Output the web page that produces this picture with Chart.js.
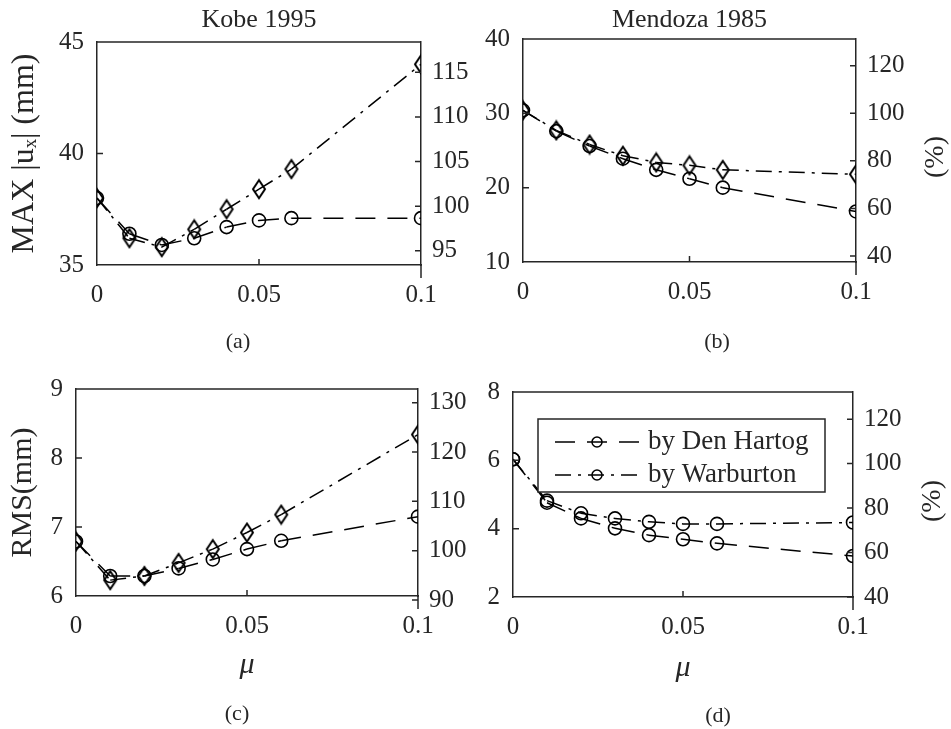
<!DOCTYPE html>
<html>
<head>
<meta charset="utf-8">
<script src="https://cdn.jsdelivr.net/npm/chart.js@4.4.1/dist/chart.umd.min.js"></script>
<style>
  body { margin: 0; background: #fff; }
  #page { position: relative; width: 951px; height: 729px; overflow: hidden;
          font-family: "Liberation Serif", "Times New Roman", serif; color: #262626; }
  canvas { position: absolute; }
  .cap { position: absolute; font-size: 22px; transform: translate(-50%, -50%); white-space: nowrap; }
</style>
</head>
<body>
<div id="page">
  <canvas id="pa" width="470" height="330" style="left:0;top:0"></canvas>
  <canvas id="pb" width="481" height="330" style="left:470px;top:0"></canvas>
  <canvas id="pc" width="470" height="340" style="left:0;top:350px"></canvas>
  <canvas id="pd" width="481" height="340" style="left:470px;top:350px"></canvas>
  <div class="cap" style="left:238px;top:341px">(a)</div>
  <div class="cap" style="left:717px;top:341px">(b)</div>
  <div class="cap" style="left:237px;top:713px">(c)</div>
  <div class="cap" style="left:718px;top:715px">(d)</div>
</div>
<script>
// mass ratio mu
const mu = [0, 0.01, 0.02, 0.03, 0.04, 0.05, 0.06, 0.1];

// MAX |u_x| (mm)
const kobeMaxDH = [38.0, 36.4, 35.9, 36.2, 36.7, 37.0, 37.1, 37.1];
const kobeMaxWB = [38.0, 36.2, 35.8, 36.6, 37.5, 38.4, 39.3, 44.0];
const mendozaMaxDH = [30.4, 27.6, 25.6, 23.9, 22.4, 21.2, 20.0, 16.8];
const mendozaMaxWB = [30.4, 27.7, 25.8, 24.3, 23.4, 23.0, 22.4, 21.8];

// RMS (mm)
const kobeRmsDH = [6.79, 6.29, 6.29, 6.40, 6.53, 6.68, 6.80, 7.15];
const kobeRmsWB = [6.79, 6.23, 6.29, 6.48, 6.68, 6.92, 7.18, 8.34];
const mendozaRmsDH = [6.03, 4.76, 4.30, 4.01, 3.81, 3.69, 3.57, 3.20];
const mendozaRmsWB = [6.03, 4.82, 4.45, 4.30, 4.20, 4.14, 4.14, 4.18];

// tick labels
const muTicks = [0, 0.05, 0.1];
const ticksA = [35, 40, 45], ticksA2 = [95, 100, 105, 110, 115];
const ticksB = [10, 20, 30, 40], ticksB2 = [40, 60, 80, 100, 120];
const ticksC = [6, 7, 8, 9], ticksC2 = [90, 100, 110, 120, 130];
const ticksD = [2, 4, 6, 8], ticksD2 = [40, 60, 80, 100, 120];

const AXIS = '#262626';
const FONT = '"Liberation Serif", "Times New Roman", "DejaVu Serif", serif';
Chart.defaults.font.family = FONT;
Chart.defaults.color = AXIS;

// narrow diamond like matlab's 'd' marker
function diamondMarker() {
  const c = document.createElement('canvas');
  c.width = 16; c.height = 22;
  const g = c.getContext('2d');
  g.strokeStyle = '#000';
  g.lineWidth = 2;
  g.beginPath();
  g.moveTo(8, 2); g.lineTo(14, 11); g.lineTo(8, 20); g.lineTo(2, 11);
  g.closePath();
  g.stroke();
  return c;
}
const diamond = diamondMarker();

const DASH = [20, 12];
const DASHDOT = [16, 7, 3, 7];

function series(label, ys, dash, marker) {
  return {
    label: label,
    data: mu.map((x, i) => ({ x: x, y: ys[i] })),
    borderColor: '#000',
    borderWidth: 1.5,
    borderDash: dash,
    // restart the dash pattern at every marker
    segment: { borderDashOffset: c => (c.p0DataIndex % 2) * 0.01 },
    pointStyle: marker,
    pointRadius: 6.5,
    pointBorderWidth: 1.6,
    pointBorderColor: '#000',
    pointBackgroundColor: 'rgba(0,0,0,0)',
    fill: false,
    tension: 0,
    yAxisID: 'y'
  };
}

// box, inward ticks, titles and legend in matlab style
const matlabAxes = {
  id: 'matlab',
  afterDraw(chart, args, opts) {
    const { ctx, chartArea: a, scales } = chart;
    ctx.save();
    ctx.strokeStyle = AXIS;
    ctx.lineWidth = 1.5;
    ctx.setLineDash([]);
    ctx.beginPath();
    ctx.moveTo(a.left, a.top); ctx.lineTo(a.right, a.top);
    ctx.moveTo(a.right, a.bottom); ctx.lineTo(a.right, a.bottom + 13);
    scales.x.ticks.forEach(t => {
      const px = scales.x.getPixelForValue(t.value);
      if (px > a.left + 1 && px < a.right - 1) { ctx.moveTo(px, a.bottom); ctx.lineTo(px, a.bottom - 6); }
    });
    scales.y.ticks.forEach(t => {
      const py = scales.y.getPixelForValue(t.value);
      if (py > a.top + 1 && py < a.bottom - 1) { ctx.moveTo(a.left, py); ctx.lineTo(a.left + 6, py); }
    });
    scales.y1.ticks.forEach(t => {
      const py = scales.y1.getPixelForValue(t.value);
      ctx.moveTo(a.right, py); ctx.lineTo(a.right - 6, py);
    });
    ctx.stroke();

    ctx.fillStyle = AXIS;
    ctx.textAlign = 'center';
    ctx.textBaseline = 'middle';
    if (opts.title) {
      ctx.font = '26px ' + FONT;
      ctx.fillText(opts.title, (a.left + a.right) / 2, opts.titleY);
    }
    if (opts.rightTitle) {
      ctx.save();
      ctx.translate(a.right + 80, (a.top + a.bottom + 13) / 2);
      ctx.rotate(-Math.PI / 2);
      ctx.font = '28px ' + FONT;
      ctx.fillText(opts.rightTitle, 0, 0);
      ctx.restore();
    }
    if (opts.legend) {
      const x0 = a.left + 25, y0 = a.top + 27, w = 287, h = 73;
      ctx.fillStyle = '#fff';
      ctx.fillRect(x0, y0, w, h);
      ctx.strokeRect(x0, y0, w, h);
      chart.data.datasets.forEach((ds, i) => {
        const yy = y0 + 23 + i * 33;
        ctx.strokeStyle = ds.borderColor;
        ctx.lineWidth = ds.borderWidth;
        ctx.setLineDash(ds.borderDash);
        ctx.beginPath(); ctx.moveTo(x0 + 17, yy); ctx.lineTo(x0 + 102, yy); ctx.stroke();
        ctx.setLineDash([]);
        ctx.beginPath(); ctx.arc(x0 + 59, yy, 5, 0, 2 * Math.PI); ctx.stroke();
        ctx.fillStyle = AXIS;
        ctx.font = '27px ' + FONT;
        ctx.textAlign = 'left';
        ctx.fillText(ds.label, x0 + 110, yy);
      });
    }
    ctx.restore();
  }
};

function makePanel(id, p) {
  const g = p.geom;
  const border = { display: true, color: AXIS, width: 1.5 };
  const tickFont = { size: 25 };
  return new Chart(document.getElementById(id), {
    type: 'line',
    data: {
      datasets: [
        series('by Den Hartog', p.dh, DASH, 'circle'),
        series('by Warburton', p.wb, DASHDOT, p.wbMarker)
      ]
    },
    options: {
      responsive: false,
      animation: false,
      layout: { padding: { top: g.top } },
      plugins: {
        legend: { display: false },
        tooltip: { enabled: false },
        matlab: { title: p.title, titleY: 20, rightTitle: p.rightTitle, legend: p.legend }
      },
      scales: {
        x: {
          type: 'linear', min: 0, max: 0.1,
          afterBuildTicks: s => { s.ticks = muTicks.map(v => ({ value: v })); },
          afterFit: s => { s.height = g.xh; },
          grid: { display: false, drawTicks: false },
          border: border,
          ticks: { padding: 15, font: tickFont, maxRotation: 0, autoSkip: false, callback: v => String(v) },
          title: { display: !!p.xTitle, text: p.xTitle, font: { size: 30, style: 'italic' }, padding: { top: 0, bottom: g.muPad } }
        },
        y: {
          position: 'left', min: p.yRange[0], max: p.yRange[1],
          afterBuildTicks: s => { s.ticks = p.yTicks.map(v => ({ value: v })); },
          afterFit: s => { s.width = g.lw; },
          grid: { display: false, drawTicks: false },
          border: border,
          ticks: { padding: 13, font: tickFont, autoSkip: false, callback: v => String(v) },
          title: { display: !!p.yTitle, text: p.yTitle, font: { size: p.yTitleSize || 30 }, padding: { top: 5, bottom: 0 } }
        },
        y1: {
          position: 'right', min: p.y2Range[0], max: p.y2Range[1],
          afterBuildTicks: s => { s.ticks = p.y2Ticks.map(v => ({ value: v })); },
          afterFit: s => { s.width = g.rw; },
          grid: { display: false, drawTicks: false },
          border: border,
          ticks: { padding: 11, font: tickFont, autoSkip: false, callback: v => String(v) }
        }
      }
    },
    plugins: [matlabAxes]
  });
}

makePanel('pa', {
  dh: kobeMaxDH, wb: kobeMaxWB, wbMarker: diamond,
  yRange: [35, 45], yTicks: ticksA, y2Range: [93.4, 118.4], y2Ticks: ticksA2,
  title: 'Kobe 1995', yTitle: 'MAX |uₓ| (mm)', yTitleSize: 32,
  geom: { top: 42, lw: 97, rw: 49, xh: 65 }
});
makePanel('pb', {
  dh: mendozaMaxDH, wb: mendozaMaxWB, wbMarker: diamond,
  yRange: [10, 40], yTicks: ticksB, y2Range: [37.5, 131.2], y2Ticks: ticksB2,
  title: 'Mendoza 1985', rightTitle: '(%)',
  geom: { top: 39, lw: 53, rw: 95, xh: 68 }
});
makePanel('pc', {
  dh: kobeRmsDH, wb: kobeRmsWB, wbMarker: diamond,
  yRange: [6, 9], yTicks: ticksC, y2Range: [90.8, 132.8], y2Ticks: ticksC2,
  yTitle: 'RMS(mm)', xTitle: 'μ',
  geom: { top: 39, lw: 76, rw: 52, xh: 94, muPad: 7 }
});
makePanel('pd', {
  dh: mendozaRmsDH, wb: mendozaRmsWB, wbMarker: 'circle',
  yRange: [2, 8], yTicks: ticksD, y2Range: [40, 132.2], y2Ticks: ticksD2,
  xTitle: 'μ', rightTitle: '(%)', legend: true,
  geom: { top: 42, lw: 43, rw: 98, xh: 93, muPad: 4 }
});
</script>
</body>
</html>
